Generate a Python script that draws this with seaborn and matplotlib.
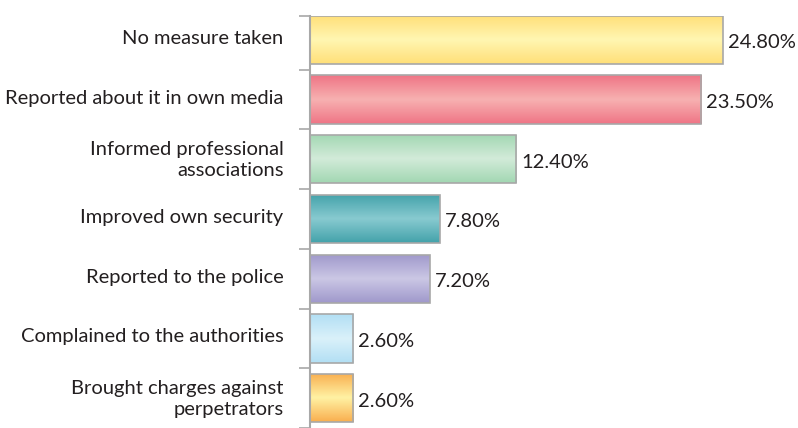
import numpy as np
import pandas as pd
import matplotlib
matplotlib.use("Agg")
import matplotlib.pyplot as plt
import matplotlib.transforms as mtransforms
from matplotlib.colors import LinearSegmentedColormap
import seaborn as sns

categories = [
    "No measure taken",
    "Reported about it in own media",
    "Informed professional\nassociations",
    "Improved own security",
    "Reported to the police",
    "Complained to the authorities",
    "Brought charges against\nperpetrators",
]
values = [24.8, 23.5, 12.4, 7.8, 7.2, 2.6, 2.6]
labels = ["24.80%", "23.50%", "12.40%", "7.80%", "7.20%", "2.60%", "2.60%"]

# (edge colour, centre colour) for the glossy vertical gradient of each bar
edge_colors = ["#FFDF78", "#EF7485", "#A2D7B2", "#43A2AA", "#9F98CB", "#B2DFF4", "#F9AE4E"]
center_colors = ["#FFF6B2", "#F7B1B1", "#D2EBD9", "#88CAD0", "#CBC7E5", "#DAF1FA", "#FFF2A4"]

sns.set_theme(style="white")
plt.rcParams["font.family"] = ["Lato", "DejaVu Sans"]

df = pd.DataFrame({"category": categories, "value": values})

fig = plt.figure(figsize=(7.98, 4.28), dpi=100)
ax = fig.add_axes([310 / 798, 0.0, 1 - 310 / 798, 1 - 16 / 428])

sns.barplot(data=df, x="value", y="category", order=categories, ax=ax,
            orient="h", width=0.81, color="white", saturation=1)

ax.set_xlim(0, (798 - 310) / 16.65)
ax.set_ylim(6.49, -0.4)

for patch, e, c in zip(ax.patches, edge_colors, center_colors):
    x0, y0 = patch.get_x(), patch.get_y()
    w, h = patch.get_width(), patch.get_height()
    cmap = LinearSegmentedColormap.from_list("g", [e, c, e])
    grad = np.linspace(0, 1, 256).reshape(-1, 1)
    im = ax.imshow(grad, cmap=cmap, aspect="auto",
                   extent=(x0, x0 + w, y0 + h, y0), origin="upper",
                   zorder=1, interpolation="bicubic")
    im.set_clip_path(patch)
    patch.set_facecolor("none")
    patch.set_edgecolor("#A8A8A8")
    patch.set_linewidth(1.2)
    patch.set_zorder(2)

for i, (v, lab) in enumerate(zip(values, labels)):
    ax.text(v + 0.3, i + 0.05, lab, va="center", ha="left",
            fontsize=14.5, color="#231F20")

ax.set_xlabel("")
ax.set_ylabel("")
ax.set_xticks([])
ax.set_yticks(range(len(categories)))
ax.set_yticklabels(categories, fontsize=14.5, color="#231F20",
                   linespacing=1.3)
ax.tick_params(axis="y", which="major", length=0, pad=19)
# nudge category labels up a touch
shift = mtransforms.ScaledTranslation(0, 3 / 100, fig.dpi_scale_trans)
for t in ax.get_yticklabels():
    t.set_transform(t.get_transform() + shift)
ax.set_yticks([-0.4] + list(np.arange(0.5, len(categories), 1)), minor=True)
ax.tick_params(axis="y", which="minor", length=8, width=1.2,
               color="#A8A8A8", left=True)

for s in ["top", "right", "bottom"]:
    ax.spines[s].set_visible(False)
ax.spines["left"].set_color("#A8A8A8")
ax.spines["left"].set_linewidth(1.5)

fig.savefig("out.png", dpi=100)
